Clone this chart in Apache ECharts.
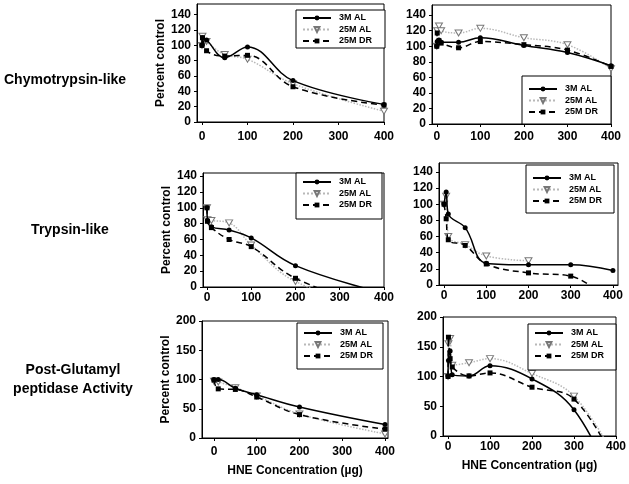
<!DOCTYPE html>
<html>
<head>
<meta charset="utf-8">
<script src="https://cdn.jsdelivr.net/npm/echarts@6/dist/echarts.min.js"></script>
<style>html,body{margin:0;padding:0;background:#fff;}#c{width:629px;height:484px;}</style>
</head>
<body>
<div id="c"></div>
<script>
// ---------- data ----------
const seriesNames = ['3M AL', '25M AL', '25M DR'];
const xTickValues = [0, 100, 200, 300, 400];
const yTicksTop = [0, 20, 40, 60, 80, 100, 120, 140];
const yTicksBottom = [0, 50, 100, 150, 200];
const rowLabels = ['Chymotrypsin-like', 'Trypsin-like', 'Post-Glutamyl', 'peptidase Activity'];
const xTitle = 'HNE Concentration (µg)';
const yTitle = 'Percent control';

// Chymotrypsin-like, left
const chymoL_x = [0, 1, 10, 50, 100, 200, 400];
const chymoL_3MAL = [100, 110, 107, 84, 98, 54, 23];
const chymoL_25MAL = [100, 112, 105, 88, 82, 50, 14];
const chymoL_25MDR = [100, 110, 93, 86, 87, 46, 22];
// Chymotrypsin-like, right
const chymoR_x = [0, 1, 5, 10, 50, 100, 200, 300, 400];
const chymoR_3MAL = [100, 106, 108, 105, 105, 111, 101, 92, 75];
const chymoR_25MAL = [100, 120, 126, 120, 117, 123, 111, 102, 71];
const chymoR_25MDR = [100, 117, 107, 104, 98, 106, 102, 95, 74];
// Trypsin-like, left
const trypL_x = [0, 1, 10, 50, 100, 200, 400];
const trypL_3MAL = [100, 84, 76, 72, 62, 27, -8];
const trypL_25MAL = [100, 85, 84, 81, 53, 7, -30];
const trypL_25MDR = [100, 83, 75, 60, 51, 11, -30];
// Trypsin-like, right
const trypR_x = [0, 5, 10, 50, 100, 200, 300, 400];
const trypR_3MAL = [100, 115, 88, 71, 27, 25, 25, 18];
const trypR_25MAL = [100, 110, 60, 50, 36, 30, null, null];
const trypR_25MDR = [100, 82, 56, 49, 26, 15, 11, -25];
// Post-Glutamyl peptidase, left
const pgL_x = [0, 10, 50, 100, 200, 400];
const pgL_3MAL = [100, 100, 85, 74, 53, 23];
const pgL_25MAL = [97, 96, 86, 72, 41, 7];
const pgL_25MDR = [99, 84, 83, 70, 40, 15];
// Post-Glutamyl peptidase, right
const pgR_x = [0, 1, 5, 10, 50, 100, 200, 300, 400];
const pgR_3MAL = [100, 127, 143, 103, 101, 118, 96, 44, -90];
const pgR_25MAL = [100, 155, 164, 119, 123, 130, 105, 67, -40];
const pgR_25MDR = [100, 166, 130, 116, 101, 106, 82, 62, -50];

// ---------- layout / style ----------
const FONT = 'Liberation Sans, Arial, sans-serif';
const panels = [
  {x: chymoL_x, s: [chymoL_3MAL, chymoL_25MAL, chymoL_25MDR], grid: {left: 197, top: 4, width: 187, height: 118}, xmin: -11, xmax: 400, ymax: 154, yt: yTicksTop, lm: 9, yname: true, ngap: 26, leg: [296, 10], legPad: [3, 13, 2, 6]},
  {x: chymoR_x, s: [chymoR_3MAL, chymoR_25MAL, chymoR_25MDR], grid: {left: 432, top: 5, width: 179, height: 119}, xmin: -11, xmax: 400, ymax: 153, yt: yTicksTop, lm: 7, yname: false, leg: [522, 76], legPad: [8, 13, 7, 6]},
  {x: trypL_x, s: [trypL_3MAL, trypL_25MAL, trypL_25MDR], grid: {left: 203, top: 173, width: 181, height: 114}, xmin: -9, xmax: 400, ymax: 144, yt: yTicksTop, lm: 5, yname: true, ngap: 30, leg: [296, 173], legPad: [4, 10, 9, 6]},
  {x: trypR_x, s: [trypR_3MAL, trypR_25MAL, trypR_25MDR], grid: {left: 439, top: 163, width: 179, height: 122}, xmin: -12, xmax: 412, ymax: 151, yt: yTicksTop, lm: 5, yname: false, leg: [526, 165], legPad: [8, 12, 7, 6]},
  {x: pgL_x, s: [pgL_3MAL, pgL_25MAL, pgL_25MDR], grid: {left: 202, top: 321, width: 186, height: 117}, xmin: -28, xmax: 407, ymax: 200, yt: yTicksBottom, lm: 8, yname: true, ngap: 23, xname: true, xgap: 27, leg: [297, 323], legPad: [5, 10, 8, 6]},
  {x: pgR_x, s: [pgR_3MAL, pgR_25MAL, pgR_25MDR], grid: {left: 443, top: 317, width: 174, height: 119}, xmin: -12, xmax: 400, ymax: 200, yt: yTicksBottom, lm: 5, yname: false, xname: true, xgap: 24, leg: [528, 324], legPad: [4, 12, 9, 6]}
];

const styles = [
  {symbol: 'circle', symbolSize: 5, itemStyle: {color: '#000'}, lineStyle: {color: '#000', width: 1.5, type: 'solid'}, z: 4},
  {symbol: 'path://M0,0 L10,0 L5,9 Z', symbolSize: [7, 6], itemStyle: {color: '#fff', borderColor: '#777', borderWidth: 1}, lineStyle: {color: '#b8b8b8', width: 1.5, type: 'dotted'}, z: 2},
  {symbol: 'rect', symbolSize: 5, itemStyle: {color: '#000'}, lineStyle: {color: '#000', width: 1.5, type: [6, 4]}, z: 3}
];

const grids = [], xAxes = [], yAxes = [], series = [], legends = [];
panels.forEach((p, i) => {
  grids.push(Object.assign({show: true, borderColor: '#000', borderWidth: 1, backgroundColor: 'transparent'}, p.grid));
  xAxes.push({
    type: 'value', gridIndex: i, min: p.xmin, max: p.xmax,
    axisLine: {show: true, onZero: false, lineStyle: {color: '#000', width: 1}},
    axisTick: {show: true, length: 3, customValues: xTickValues, lineStyle: {color: '#000'}},
    axisLabel: {customValues: xTickValues, margin: p.lm, color: '#000', fontSize: 12, fontWeight: 'bold', fontFamily: FONT},
    splitLine: {show: false},
    name: p.xname ? xTitle : '', nameLocation: 'middle', nameGap: p.xgap || 20,
    nameTextStyle: {color: '#000', fontSize: 12, fontWeight: 'bold', fontFamily: FONT}
  });
  yAxes.push({
    type: 'value', gridIndex: i, min: 0, max: p.ymax,
    axisLine: {show: true, onZero: false, lineStyle: {color: '#000', width: 1}},
    axisTick: {show: true, length: 3, customValues: p.yt, lineStyle: {color: '#000'}},
    axisLabel: {customValues: p.yt, margin: 6, color: '#000', fontSize: 12, fontWeight: 'bold', fontFamily: FONT},
    splitLine: {show: false},
    name: p.yname ? yTitle : '', nameLocation: 'middle', nameGap: p.ngap || 20,
    nameTextStyle: {color: '#000', fontSize: 12, fontWeight: 'bold', fontFamily: FONT}
  });
  [1, 2, 0].forEach(k => {
    const data = p.x.map((xv, j) => [xv, p.s[k][j]]);
    series.push(Object.assign({
      name: seriesNames[k], type: 'line', xAxisIndex: i, yAxisIndex: i,
      data: data, smooth: 0.4, clip: true, animation: false, connectNulls: false
    }, styles[k]));
  });
  legends.push({
    data: seriesNames, orient: 'vertical', left: p.leg[0], top: p.leg[1],
    itemWidth: 28, itemHeight: 6, itemGap: 1.5,
    padding: p.legPad,
    borderColor: '#000', borderWidth: 1, backgroundColor: '#fff',
    selectedMode: false,
    textStyle: {color: '#000', fontSize: 9, fontWeight: 'bold', fontFamily: FONT, lineHeight: 10, padding: [0, 0, 0, 3]}
  });
});

const textG = (t, x, y, align) => ({
  type: 'text', style: {text: t, x: x, y: y, align: align, verticalAlign: 'middle', fill: '#000', font: 'bold 14px ' + FONT}
});

const chart = echarts.init(document.getElementById('c'), null, {renderer: 'canvas'});
chart.setOption({
  animation: false,
  backgroundColor: '#fff',
  grid: grids, xAxis: xAxes, yAxis: yAxes, series: series, legend: legends,
  graphic: [
    textG(rowLabels[0], 4, 80, 'left'),
    textG(rowLabels[1], 70, 230, 'center'),
    textG(rowLabels[2], 73, 370, 'center'),
    textG(rowLabels[3], 73, 389, 'center')
  ]
});
</script>
</body>
</html>
